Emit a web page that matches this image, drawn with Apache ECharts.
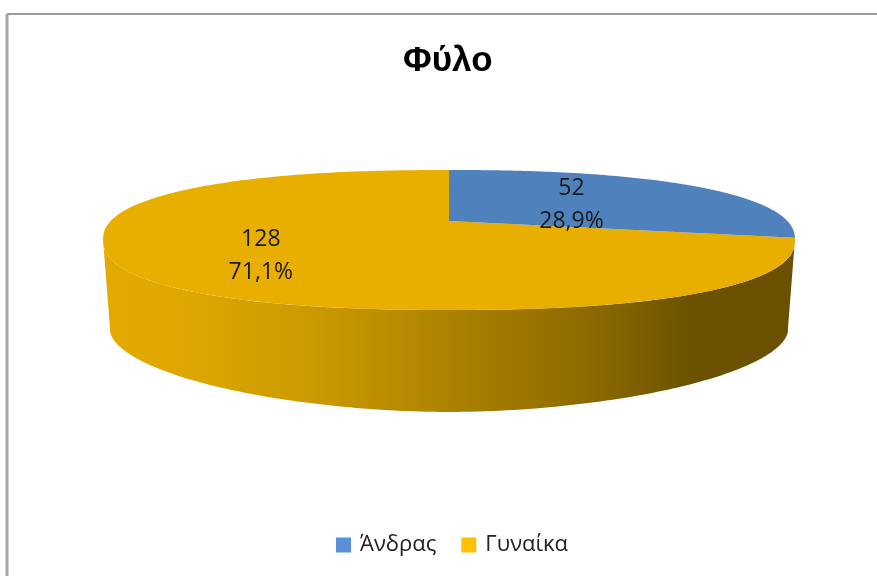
<!DOCTYPE html>
<html>
<head>
<meta charset="utf-8">
<style>html,body{margin:0;padding:0;background:#fff}#chart{width:877px;height:576px}</style>
<script src="https://cdn.jsdelivr.net/npm/echarts@6/dist/echarts.min.js"></script>
</head>
<body>
<div id="chart"></div>
<script>
const categories = ['Άνδρας', 'Γυναίκα'];
const counts = [52, 128];
const percentLabels = ['28,9%', '71,1%'];
const sliceColors = ['#4F81BD', '#E9AF00'];
const legendColors = ['#5B8FD9', '#FFC000'];

// Each disc: a perspective hub (y0) with a rim outline centred on (cx, cy).
const TOP = { cx: 449, y0: 221, a: 333, b: 64.8, k: 0.2714, cy: 240, rimX: 346, rimY: 70, power: 2.3 };
const BASE = { cx: 449, y0: 307.7, a: 326, b: 76, k: 0.2714, cy: 330, rimX: 339, rimY: 82, power: 1.85 };
// Angles (degrees clockwise from 12 o'clock) where the disc outline is widest.
const WALL_START = 105;
const WALL_END = 255;

const total = counts.reduce((s, v) => s + v, 0);

function rimValue(disc, x, y) {
  return Math.pow(Math.abs(x - disc.cx) / disc.rimX, disc.power) +
         Math.pow(Math.abs(y - disc.cy) / disc.rimY, disc.power);
}

// Follows the perspective ray for this angle out from the hub to the rim.
function project(disc, angle, r) {
  const u = Math.sin(angle), v = Math.cos(angle);
  const d = 1 + disc.k * v;
  const dx = disc.a * u / d, dy = -disc.b * v / d;
  let lo = 0, hi = 3;
  for (let i = 0; i < 40; i++) {
    const t = (lo + hi) / 2;
    if (rimValue(disc, disc.cx + dx * t, disc.y0 + dy * t) < 1) lo = t; else hi = t;
  }
  return [disc.cx + dx * lo * r, disc.y0 + dy * lo * r];
}

function arc(disc, from, to, steps) {
  const pts = [];
  for (let i = 0; i <= steps; i++) pts.push(project(disc, from + (to - from) * i / steps, 1));
  return pts;
}

const labelPlacement = [{ r: 0.515, dy: 2.5 }, { r: 0.582, dy: 6.5 }];

function renderSlice(params, api) {
  const idx = params.seriesIndex;
  let before = 0;
  for (let i = 0; i < idx; i++) before += counts[i];
  const start = before / total * 2 * Math.PI;
  const end = (before + api.value(0)) / total * 2 * Math.PI;
  const children = [];

  // Outer wall: only the part facing the viewer is visible.
  const wallFrom = Math.max(start, WALL_START / 180 * Math.PI);
  const wallTo = Math.min(end, WALL_END / 180 * Math.PI);
  if (wallTo > wallFrom) {
    const upper = arc(TOP, wallFrom, wallTo, 160);
    const lower = arc(BASE, wallFrom, wallTo, 160).reverse();
    children.push({
      type: 'polygon',
      shape: { points: upper.concat(lower) },
      style: {
        fill: new echarts.graphic.LinearGradient(0, 0, 1, 0, [
          { offset: 0, color: '#E3AA00' },
          { offset: 0.1, color: '#E0A800' },
          { offset: 0.3, color: '#CC9A00' },
          { offset: 0.5, color: '#AC8200' },
          { offset: 0.7, color: '#8D6B00' },
          { offset: 0.85, color: '#6C5200' },
          { offset: 1, color: '#6A5000' }
        ])
      }
    });
  }

  // Top face of the slice.
  const face = [project(TOP, start, 0)].concat(arc(TOP, start, end, 200));
  children.push({
    type: 'polygon',
    shape: { points: face },
    style: { fill: sliceColors[idx] }
  });

  // Value and share, placed along the slice's middle angle.
  const mid = (start + end) / 2;
  const place = labelPlacement[idx];
  const at = project(TOP, mid, place.r);
  children.push({
    type: 'text',
    z2: 10,
    x: at[0],
    y: at[1] + place.dy,
    style: {
      text: api.value(0) + '\n' + percentLabels[idx],
      font: '23px "Open Sans", sans-serif',
      lineHeight: 33,
      fill: '#1a1a1a',
      align: 'center',
      verticalAlign: 'middle'
    }
  });
  return { type: 'group', children };
}

const chart = echarts.init(document.getElementById('chart'), null, { renderer: 'canvas' });
chart.setOption({
  animation: false,
  backgroundColor: '#ffffff',
  graphic: [
    { type: 'line', shape: { x1: 7, y1: 14, x2: 877, y2: 14 }, style: { stroke: '#9a9a9a', lineWidth: 2 } },
    { type: 'line', shape: { x1: 7, y1: 14, x2: 7, y2: 576 }, style: { stroke: '#a6a6a6', lineWidth: 3 } }
  ],
  title: {
    text: 'Φύλο',
    left: 398,
    top: 39,
    textStyle: { fontFamily: '"Liberation Sans", sans-serif', fontWeight: 'bold', fontSize: 35, color: '#000' }
  },
  legend: {
    data: categories,
    left: 336,
    top: 534,
    padding: 0,
    itemWidth: 15,
    itemHeight: 15,
    itemGap: 25,
    icon: 'rect',
    textStyle: { fontFamily: '"Open Sans", sans-serif', fontSize: 22, color: '#222', padding: [0, 0, 0, 4] }
  },
  series: categories.map((name, i) => ({
    type: 'custom',
    name,
    coordinateSystem: 'none',
    renderItem: renderSlice,
    data: [[counts[i]]],
    itemStyle: { color: legendColors[i] },
    silent: true,
    z: i === 0 ? 3 : 2
  }))
});
</script>
</body>
</html>
